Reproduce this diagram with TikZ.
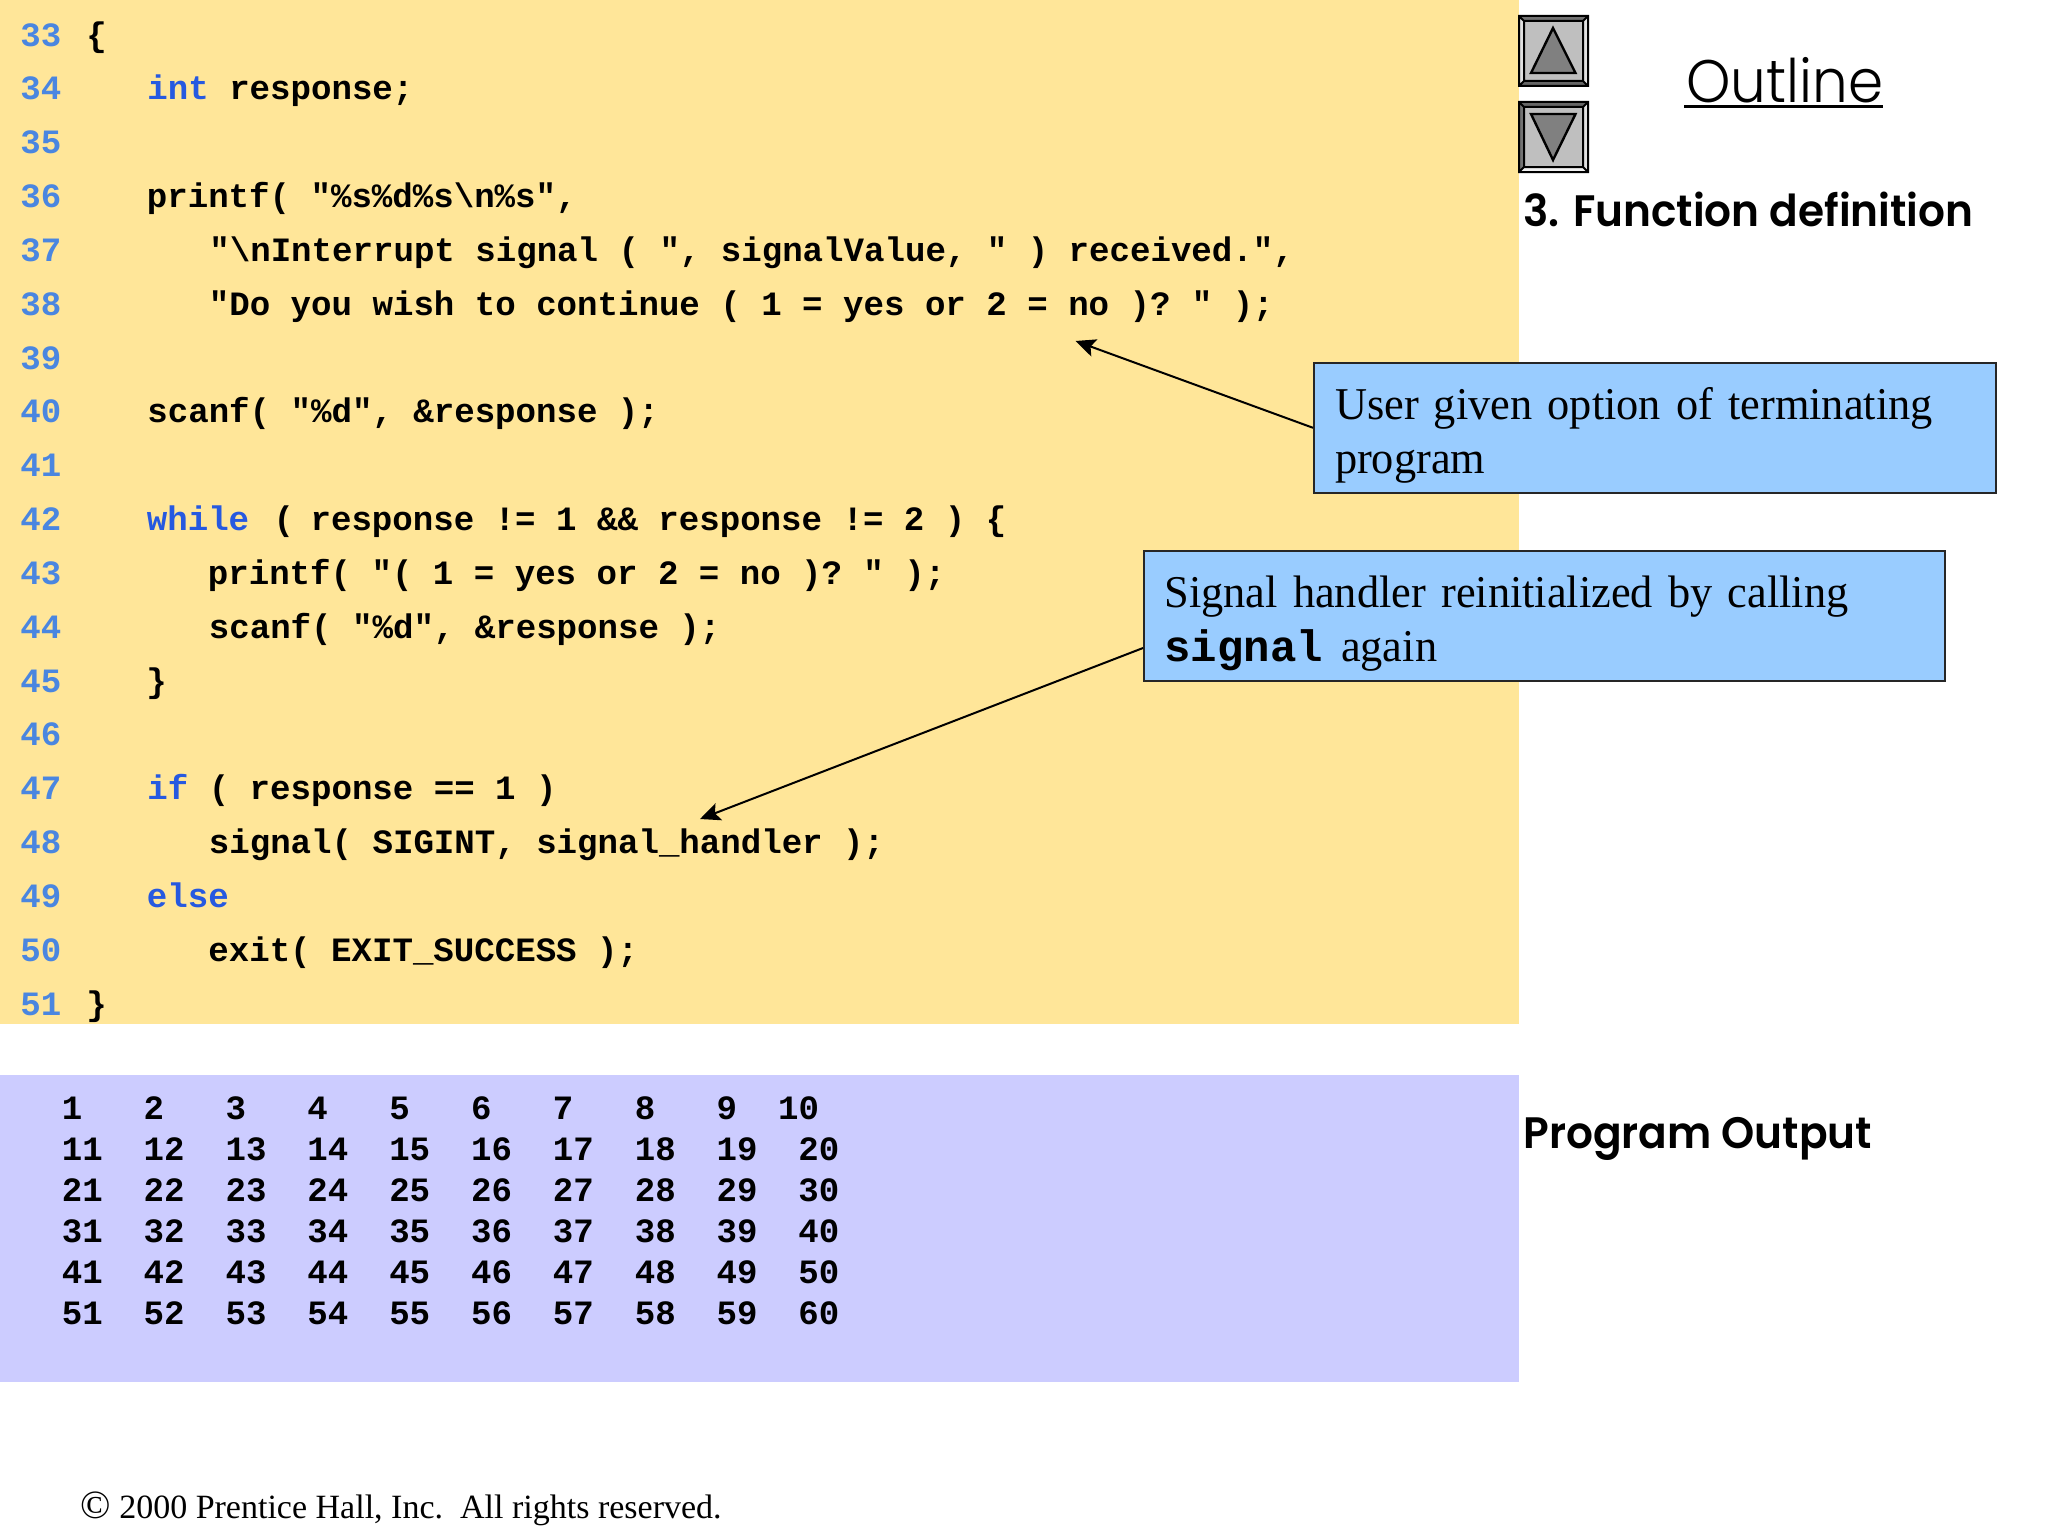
\documentclass[tikz,border=0pt]{standalone}
\usepackage{fontspec}
\setmainfont{Liberation Serif}
\newfontfamily\callfont{Liberation Serif}[FakeStretch=0.975,WordSpace=0.8]
\newfontfamily\codefont{Liberation Mono}
\newfontfamily\outlinefont{Poppins Light}[FakeStretch=0.94]
\newfontfamily\headfont{Poppins}[BoldFont={Poppins SemiBold},BoldFeatures={FakeStretch=0.96}]
\usetikzlibrary{arrows.meta}
\definecolor{codebg}{HTML}{FFE699}
\definecolor{outbg}{HTML}{CCCCFF}
\definecolor{callout}{HTML}{99CCFF}
\definecolor{lnum}{HTML}{4A86E0}
\definecolor{kw}{HTML}{2659E0}
\newcommand{\kwd}[1]{\textcolor{kw}{#1}}
\newcommand{\firststrut}{\rule{0pt}{23.5pt}}
\tikzset{
  x=0.5pt,y=-0.5pt,
  code/.style={anchor=base west,inner sep=0pt,font=\codefont\bfseries\fontsize{17.05pt}{20pt}\selectfont},
  lnumber/.style={code,text=lnum},
  outrow/.style={code},
  callbox/.style={draw=black!85,line width=1pt,fill=callout,anchor=north west,inner xsep=10.5pt,inner ysep=0pt,
    align=left,minimum height=64.8pt,font=\callfont\fontsize{22.75pt}{27.2pt}\selectfont},
  arrowline/.style={black,line width=1pt,-{Stealth[length=10pt,width=9pt,inset=2pt]}},
  head/.style={anchor=base west,inner sep=0pt,font=\headfont\bfseries\fontsize{22pt}{26pt}\selectfont},
}
\begin{document}
\begin{tikzpicture}
\useasboundingbox (0,0) rectangle (2048,1536);
\fill[white] (0,0) rectangle (2048,1536);
\fill[codebg] (0,0) rectangle (1519,1024);
\fill[outbg] (0,1075) rectangle (1519,1382);
% line numbers
\node[lnumber] (n33) at (20,46.3) {33};
\node[lnumber] (n34) at (20,99.8) {34};
\node[lnumber] (n35) at (20,153.6) {35};
\node[lnumber] (n36) at (20,207.5) {36};
\node[lnumber] (n37) at (20,261.3) {37};
\node[lnumber] (n38) at (20,315.2) {38};
\node[lnumber] (n39) at (20,369) {39};
\node[lnumber] (n40) at (20,422.8) {40};
\node[lnumber] (n41) at (20,476.7) {41};
\node[lnumber] (n42) at (20,530.5) {42};
\node[lnumber] (n43) at (20,584.3) {43};
\node[lnumber] (n44) at (20,638.2) {44};
\node[lnumber] (n45) at (20,692) {45};
\node[lnumber] (n46) at (20,745.9) {46};
\node[lnumber] (n47) at (20,799.7) {47};
\node[lnumber] (n48) at (20,853.5) {48};
\node[lnumber] (n49) at (20,907.4) {49};
\node[lnumber] (n50) at (20,961.3) {50};
\node[lnumber] (n51) at (20,1015.1) {51};
% code
\node[code] (c33) at (86,46.3) {\{};
\node[code] (c34) at (147,99.8) {\kwd{int} response;};
\node[code] (c36) at (146.5,207.5) {printf( "\%s\%d\%s\textbackslash n\%s",};
\node[code] (c37) at (209,261.3) {"\textbackslash nInterrupt signal ( ", signalValue, " ) received.",};
\node[code] (c38) at (208.5,315.2) {"Do you wish to continue ( 1 = yes or 2 = no )?\hspace{-3pt} " );};
\node[code] (c40) at (147,422.8) {scanf( "\%d", \&response );};
\node[code] (c42) at (146.5,530.5) {\kwd{while}\hspace{2pt} (\hspace{-2pt} response != 1 \&\& response != 2 ) \{};
\node[code] (c43) at (207.5,584.3) {printf( "( 1 = yes or 2 = no )?\hspace{-3pt} " );};
\node[code] (c44) at (208.5,638.2) {scanf( "\%d", \&response );};
\node[code] (c45) at (146,692) {\}};
\node[code] (c47) at (147,799.7) {\kwd{if} ( response == 1 )};
\node[code] (c48) at (208.5,853.5) {signal( SIGINT, signal\_handler );};
\node[code] (c49) at (146.5,907.4) {\kwd{else}};
\node[code] (c50) at (208,961.3) {exit( EXIT\_SUCCESS );};
\node[code] (c51) at (86,1015.1) {\}};
% program output
\node[outrow] (r1) at (61.5,1119.5) {1~~~2~~~3~~~4~~~5~~~6~~~7~~~8~~~9~~10};
\node[outrow] (r2) at (61.5,1160.5) {11~~12~~13~~14~~15~~16~~17~~18~~19~~20};
\node[outrow] (r3) at (61.5,1201.5) {21~~22~~23~~24~~25~~26~~27~~28~~29~~30};
\node[outrow] (r4) at (61.5,1242.5) {31~~32~~33~~34~~35~~36~~37~~38~~39~~40};
\node[outrow] (r5) at (61.5,1283.5) {41~~42~~43~~44~~45~~46~~47~~48~~49~~50};
\node[outrow] (r6) at (61.5,1324.5) {51~~52~~53~~54~~55~~56~~57~~58~~59~~60};
% callouts
\node[callbox,text width=320.2pt,minimum width=341.2pt] (box1) at (1313,362) {\firststrut User given option of terminating\\program};
\node[callbox,text width=379.9pt,minimum width=400.9pt] (box2) at (1142.5,550) {\firststrut Signal handler reinitialized by calling\\{\codefont\bfseries\fontsize{22pt}{27.2pt}\selectfont signal}\hspace{1.5pt} again};
\coordinate (tip1) at (1075.5,341);
\coordinate (tip2) at (700,819);
\coordinate (tail2) at (1143,648);
\draw[arrowline] (box1.west) -- (tip1);
\draw[arrowline] (tail2) -- (tip2);
% up button
\fill[white!75!black] (1519,16) rectangle (1588,86);
\fill[black!55] (1519,16) -- (1588,16) -- (1583,21) -- (1524,21) -- cycle;
\fill[black!12] (1519,16) -- (1524,21) -- (1524,81) -- (1519,86) -- cycle;
\fill[black!12] (1588,16) -- (1583,21) -- (1583,81) -- (1588,86) -- cycle;
\fill[black!60] (1519,86) -- (1524,81) -- (1583,81) -- (1588,86) -- cycle;
\draw[line width=1pt] (1519,16) rectangle (1588,86) (1524,21) rectangle (1583,81)
  (1519,16) -- (1524,21) (1588,16) -- (1583,21) (1519,86) -- (1524,81) (1588,86) -- (1583,81);
\draw[fill=black!50,line width=1.2pt,line join=miter] (1553,28) -- (1531,73) -- (1575.5,73) -- cycle;
% down button
\fill[white!75!black] (1519,102) rectangle (1588,172);
\fill[black!60] (1519,102) -- (1588,102) -- (1583,107) -- (1524,107) -- cycle;
\fill[black!55] (1519,102) -- (1524,107) -- (1524,167) -- (1519,172) -- cycle;
\fill[black!12] (1588,102) -- (1583,107) -- (1583,167) -- (1588,172) -- cycle;
\fill[black!5] (1519,172) -- (1524,167) -- (1583,167) -- (1588,172) -- cycle;
\draw[line width=1pt] (1519,102) rectangle (1588,172) (1524,107) rectangle (1583,167)
  (1519,102) -- (1524,107) (1588,102) -- (1583,107) (1519,172) -- (1524,167) (1588,172) -- (1583,167);
\draw[fill=black!50,line width=1.2pt,line join=miter] (1531,114) -- (1575.5,114) -- (1553,160) -- cycle;
% headings
\node[anchor=base west,inner sep=0pt,font=\outlinefont\fontsize{30pt}{34pt}\selectfont] (outline) at (1686,102.5) {Outline};
\coordinate (ulL) at (1684,107);
\coordinate (ulR) at (1883,107);
\draw[line width=1.5pt] (ulL) -- (ulR);
\node[head] (func) at (1523,226.7) {3. Function definition};
\node[head] (prog) at (1523,1148) {Program Output};
\node[anchor=base west,inner sep=0pt,font=\fontsize{17pt}{20pt}\selectfont] (copy) at (80,1518) {{\fontsize{20pt}{20pt}\selectfont ©} 2000 Prentice Hall, Inc.\ \ All rights reserved.};
\end{tikzpicture}
\end{document}
